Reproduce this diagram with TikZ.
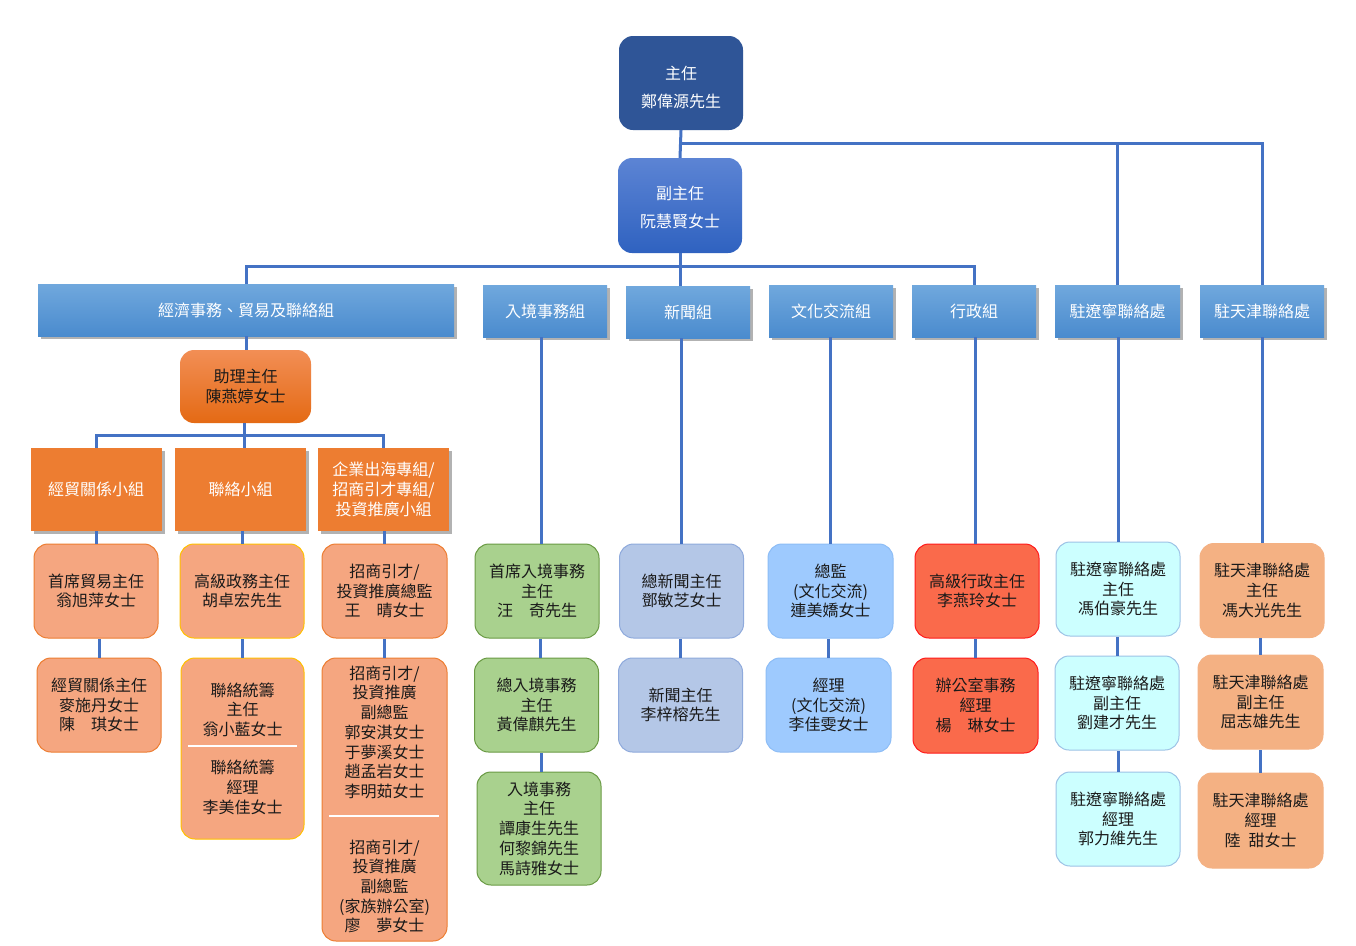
\documentclass[tikz,border=0pt]{standalone}
\usepackage{fontspec}
\setmainfont{Noto Sans CJK TC}
\usetikzlibrary{shadows}
\definecolor{dirC}{HTML}{2F5597}
\definecolor{depT}{HTML}{5C84D4}
\definecolor{depB}{HTML}{2F62C0}
\definecolor{grpT}{HTML}{70A8DD}
\definecolor{grpB}{HTML}{4A8BCE}
\definecolor{asT}{HTML}{F28E55}
\definecolor{asB}{HTML}{E46A14}
\definecolor{subO}{HTML}{ED7D31}
\definecolor{salm}{HTML}{F5A680}
\definecolor{goldB}{HTML}{FFC000}
\definecolor{grnF}{HTML}{A9D18E}
\definecolor{grnB}{HTML}{6A9A44}
\definecolor{newsF}{HTML}{B4C7E7}
\definecolor{newsB}{HTML}{8FAADC}
\definecolor{cultF}{HTML}{9ECAFE}
\definecolor{cultB}{HTML}{8DBDF6}
\definecolor{admF}{HTML}{FA6A4B}
\definecolor{admB}{HTML}{FF1A1A}
\definecolor{lnF}{HTML}{CCFFFF}
\definecolor{lnB}{HTML}{9DC3E6}
\definecolor{tjF}{HTML}{F4B183}
\definecolor{lineC}{HTML}{4472C4}
\definecolor{txt}{HTML}{1A1A1A}
\begin{document}
\begin{tikzpicture}[x=1pt,y=-1pt,
  base/.style={inner sep=0pt, align=center, font=\fontsize{16}{19.7}\selectfont, text=txt},
  topbox/.style={base, rounded corners=14, minimum width=124, minimum height=94},
  toptext/.style={base, text=white, font=\fontsize{16}{28}\selectfont},
  grp/.style={base, minimum height=52, text=white, top color=grpT, bottom color=grpB,
    drop shadow={shadow xshift=3pt, shadow yshift=-3pt, opacity=0.3, fill=black}},
  subgrp/.style={base, minimum width=131, minimum height=83, fill=subO, text=white,
    drop shadow={shadow xshift=3pt, shadow yshift=-3pt, opacity=0.3, fill=black}},
  card/.style={base, rounded corners=14, minimum width=124, minimum height=94, draw, line width=1pt},
  cardA/.style={card, fill=salm, draw=subO},
  cardB/.style={card, fill=salm, draw=goldB},
  cardI/.style={card, fill=grnF, draw=grnB},
  cardN/.style={card, fill=newsF, draw=newsB},
  cardK/.style={card, fill=cultF, draw=cultB},
  cardD/.style={card, fill=admF, draw=admB},
  cardL/.style={card, fill=lnF, draw=lnB},
  cardT/.style={card, fill=tjF, draw=tjF},
  conn/.style={draw=lineC, line width=3pt},
  sepline/.style={draw=white, line width=2pt}
]
\useasboundingbox[fill=white] (0,0) rectangle (1356,945);

% top
\node[topbox, fill=dirC] (dir) at (681,83) {};
\node[toptext] (dirT) at (681,87) {主任\\鄭偉源先生};
\node[topbox, top color=depT, bottom color=depB, minimum height=95] (dep) at (680,205.5) {};
\node[toptext] (depT) at (680,207.5) {副主任\\阮慧賢女士};

% groups
\node[grp, minimum width=416] (econ) at (246,310) {經濟事務、貿易及聯絡組};
\node[grp, minimum width=124] (imm) at (545,311) {入境事務組};
\node[grp, minimum width=124] (news) at (688,312) {新聞組};
\node[grp, minimum width=124] (cult) at (831,311) {文化交流組};
\node[grp, minimum width=124] (adm) at (974,311) {行政組};
\node[grp, minimum width=125] (ln) at (1117.5,311) {駐遼寧聯絡處};
\node[grp, minimum width=124] (tj) at (1262,311) {駐天津聯絡處};

% assistant and subgroups
\node[base, rounded corners=14, minimum width=131, minimum height=73, top color=asT, bottom color=asB] (ast) at (245.5,386.5) {助理主任\\陳燕婷女士};
\node[subgrp] (sgA) at (96,489.5) {經貿關係小組};
\node[subgrp] (sgB) at (240.5,489.5) {聯絡小組};
\node[subgrp] (sgC) at (383.5,489.5) {企業出海專組/\\招商引才專組/\\投資推廣小組};

% economic cards
\node[cardA] (A1) at (96,591) {首席貿易主任\\翁旭萍女士};
\node[cardA] (A2) at (99,705) {經貿關係主任\\麥施丹女士\\陳\hspace{1em}琪女士};
\node[cardB] (B1) at (242,591) {高級政務主任\\胡卓宏先生};
\node[cardB, minimum width=123, minimum height=181] (B2) at (242.5,748.5) {聯絡統籌\\主任\\翁小藍女士\\[18.5pt]聯絡統籌\\經理\\李美佳女士};
\node[cardA, minimum width=125] (C1) at (384.5,591) {招商引才/\\投資推廣總監\\王\hspace{1em}晴女士};
\node[cardA, minimum width=125, minimum height=283] (C2) at (384.5,799.5) {招商引才/\\投資推廣\\副總監\\郭安淇女士\\于夢溪女士\\趙孟岩女士\\李明茹女士\\[36pt]招商引才/\\投資推廣\\副總監\\(家族辦公室)\\廖\hspace{1em}夢女士};

% immigration
\node[cardI] (I1) at (537,591) {首席入境事務\\主任\\汪\hspace{1em}奇先生};
\node[cardI] (I2) at (536.5,705) {總入境事務\\主任\\黃偉麒先生};
\node[cardI, minimum height=113] (I3) at (539,828.5) {入境事務\\主任\\譚康生先生\\何黎錦先生\\馬詩雅女士};

% news
\node[cardN] (N1) at (681.5,591) {總新聞主任\\鄧敏芝女士};
\node[cardN] (N2) at (680.5,705) {新聞主任\\李梓榕先生};

% culture
\node[cardK, minimum width=125] (K1) at (830.5,591) {總監\\(文化交流)\\連美嬌女士};
\node[cardK, minimum width=125] (K2) at (828.5,705) {經理\\(文化交流)\\李佳雯女士};

% admin
\node[cardD] (D1) at (977,591) {高級行政主任\\李燕玲女士};
\node[cardD, minimum width=125, minimum height=95] (D2) at (975.5,705.5) {辦公室事務\\經理\\楊\hspace{1em}琳女士};

% liaoning
\node[cardL] (L1) at (1118,589) {駐遼寧聯絡處\\主任\\馮伯豪先生};
\node[cardL] (L2) at (1117,703) {駐遼寧聯絡處\\副主任\\劉建才先生};
\node[cardL] (L3) at (1118,819) {駐遼寧聯絡處\\經理\\郭力維先生};

% tianjin
\node[cardT] (T1) at (1262,590.5) {駐天津聯絡處\\主任\\馮大光先生};
\node[cardT, minimum width=125] (T2) at (1260.5,702) {駐天津聯絡處\\副主任\\屈志雄先生};
\node[cardT, minimum width=125, minimum height=95] (T3) at (1260.5,820.5) {駐天津聯絡處\\經理\\陸\hspace{0.5em}甜女士};

% separators
\draw[sepline] (188,746) -- (297,746);
\draw[sepline] (329,816) -- (439,816);

% connectors
\coordinate (hb1) at (681,143);
\coordinate (hb2) at (681,266);
\coordinate (hb3) at (244,435);
\draw[conn] (dir.south) -- (dep.north);
\draw[conn] (hb1) -| (ln.north);
\draw[conn] (hb1) -| (tj.north);
\draw[conn] (dep.south) -- (dep.south |- news.north);
\draw[conn] (hb2) -| (econ.north);
\draw[conn] (hb2) -| (adm.north);
\draw[conn] (econ.south) -- (econ.south |- ast.north);
\draw[conn] (hb3 |- ast.south) -- (hb3 |- sgB.north);
\draw[conn] (sgA.north) |- (hb3) -| (sgC.north);

\draw[conn] (A1.north |- sgA.south) -- (A1.north);
\draw[conn] (A2.north) -- (A2.north |- A1.south);
\draw[conn] (B1.north) -- (B1.north |- sgB.south);
\draw[conn] (B2.north) -- (B2.north |- B1.south);
\draw[conn] (C1.north) -- (C1.north |- sgC.south);
\draw[conn] (C2.north) -- (C2.north |- C1.south);

\draw[conn] (I1.north) ++(4,0) -- ([xshift=4pt]I1.north |- imm.south);
\draw[conn] (I2.north) ++(4,0) -- ([xshift=4pt]I2.north |- I1.south);
\draw[conn] (I3.north) ++(2,0) -- ([xshift=2pt]I3.north |- I2.south);

\draw[conn] (N1.north) -- (N1.north |- news.south);
\draw[conn] (N2.north) -- (N2.north |- N1.south);
\draw[conn] (K1.north) -- (K1.north |- cult.south);
\draw[conn] (K2.north) -- (K2.north |- K1.south);
\draw[conn] (D1.north) ++(-2,0) -- ([xshift=-2pt]D1.north |- adm.south);
\draw[conn] (D2.north) -- (D2.north |- D1.south);
\draw[conn] (L1.north) -- (L1.north |- ln.south);
\draw[conn] (L2.north) -- (L2.north |- L1.south);
\draw[conn] (L3.north) -- (L3.north |- L2.south);
\draw[conn] (T1.north) -- (T1.north |- tj.south);
\draw[conn] (T2.north) -- (T2.north |- T1.south);
\draw[conn] (T3.north) -- (T3.north |- T2.south);
\end{tikzpicture}
\end{document}
